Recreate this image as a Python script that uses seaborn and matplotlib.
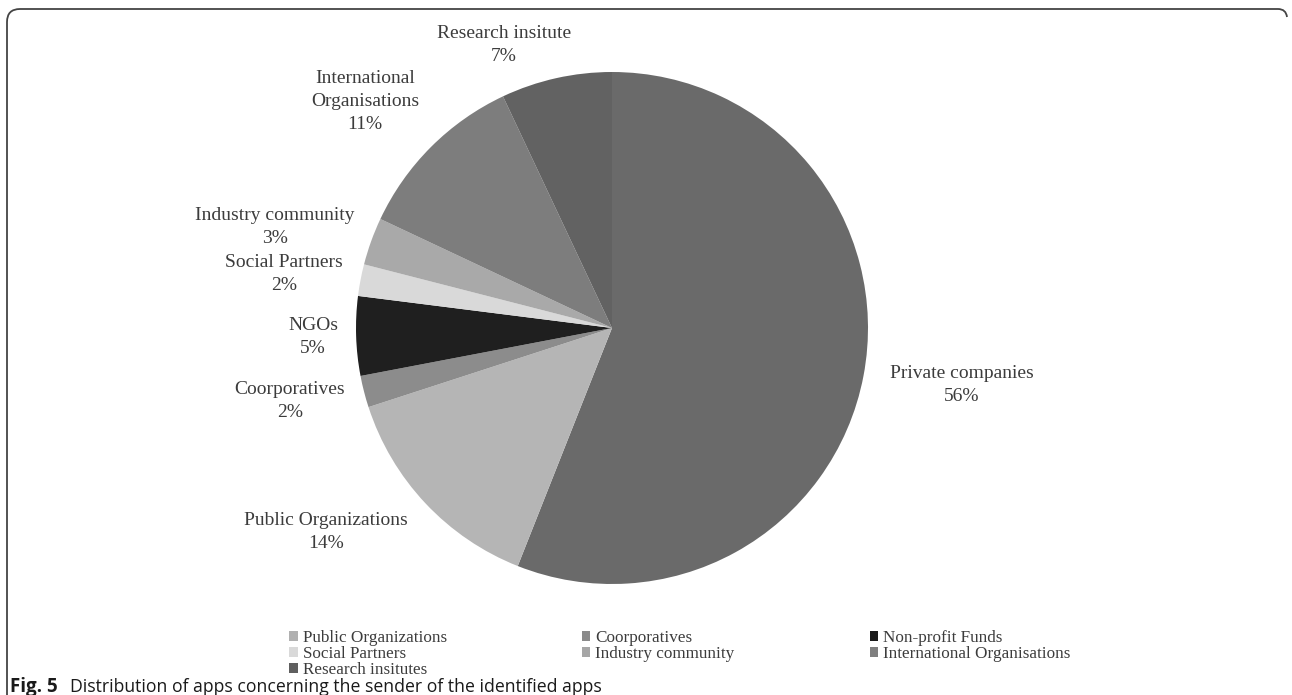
import matplotlib
matplotlib.use("Agg")
import matplotlib.pyplot as plt
import seaborn as sns
from matplotlib.patches import Patch
from matplotlib.path import Path
from matplotlib.patches import PathPatch

sns.set_theme(style="white")
plt.rcParams['font.family'] = ['Liberation Serif', 'DejaVu Serif']

# ---- data ----
categories = ["Private companies", "Public Organizations", "Coorporatives", "NGOs",
              "Social Partners", "Industry community", "International Organisations",
              "Research insitute"]
label_text = ["Private companies", "Public Organizations", "Coorporatives", "NGOs",
              "Social Partners", "Industry community", "International\nOrganisations",
              "Research insitute"]
shares = [56, 14, 2, 5, 2, 3, 11, 7]
slice_colors = ["#6a6a6a", "#b5b5b5", "#8c8c8c", "#1f1f1f",
                "#d9d9d9", "#a9a9a9", "#7d7d7d", "#626262"]

legend_labels = ["Public Organizations", "Coorporatives", "Non-profit Funds",
                 "Social Partners", "Industry community", "International Organisations",
                 "Research insitutes"]
legend_colors = ["#b0b0b0", "#8a8a8a", "#1a1a1a", "#d9d9d9", "#a6a6a6", "#7f7f7f", "#5f5f5f"]

W, H = 1292, 695
fig = plt.figure(figsize=(W / 100, H / 100), dpi=100)
ax = fig.add_axes([0, 0, 1, 1])

def Y(y):
    return H - y

cx, cy, r = 612, 328, 256
wedges, _ = ax.pie(shares, colors=slice_colors, startangle=90, counterclock=False,
                   radius=r, center=(cx, Y(cy)), frame=True,
                   wedgeprops=dict(linewidth=0))
ax.set_xlim(0, W)
ax.set_ylim(0, H)
ax.axis("off")

# label block centres (pixel coords)
label_pos = [(962, 385), (326, 532), (290, 401), (313, 337),
             (284, 274), (275, 227), (365, 101.5), (504, 45)]
for txt, val, (x, y) in zip(label_text, shares, label_pos):
    ax.text(x, Y(y), f"{txt}\n{val}%", ha="center", va="center",
            fontsize=14, color="#3c3c3c", linespacing=1.48)

# legend (row-major order in the reference -> reorder for column-major fill)
order = [0, 3, 6, 1, 4, 2, 5]
handles = [Patch(facecolor=legend_colors[i], edgecolor="none") for i in order]
labels = [legend_labels[i] for i in order]
leg = ax.legend(handles, labels, ncol=3, loc="upper left",
                bbox_to_anchor=(289 / W, 1 - 630 / H), frameon=False,
                fontsize=12.3, handlelength=0.5, handleheight=0.5,
                handletextpad=0.3, labelspacing=0.0, columnspacing=7.9,
                borderaxespad=0, borderpad=0)
for t in leg.get_texts():
    t.set_color("#3c3c3c")

# frame line
verts = [(7, Y(695)), (7, Y(22)), (7, Y(9)), (20, Y(9)), (1278, Y(9)),
         (1286, Y(9)), (1287, Y(17))]
codes = [Path.MOVETO, Path.LINETO, Path.CURVE3, Path.CURVE3, Path.LINETO,
         Path.CURVE3, Path.CURVE3]
ax.add_patch(PathPatch(Path(verts, codes), facecolor="none", edgecolor="#444444",
                       linewidth=1.3, clip_on=False))

# caption
ax.text(10, Y(687), "Fig. 5", ha="left", va="center", fontsize=13.5,
        fontweight="bold", family=["Open Sans", "DejaVu Sans"], color="#1a1a1a")
ax.text(70, Y(687), "Distribution of apps concerning the sender of the identified apps",
        ha="left", va="center", fontsize=12.7, family=["Open Sans", "DejaVu Sans"],
        color="#1a1a1a")

fig.savefig("out.png", dpi=100)
